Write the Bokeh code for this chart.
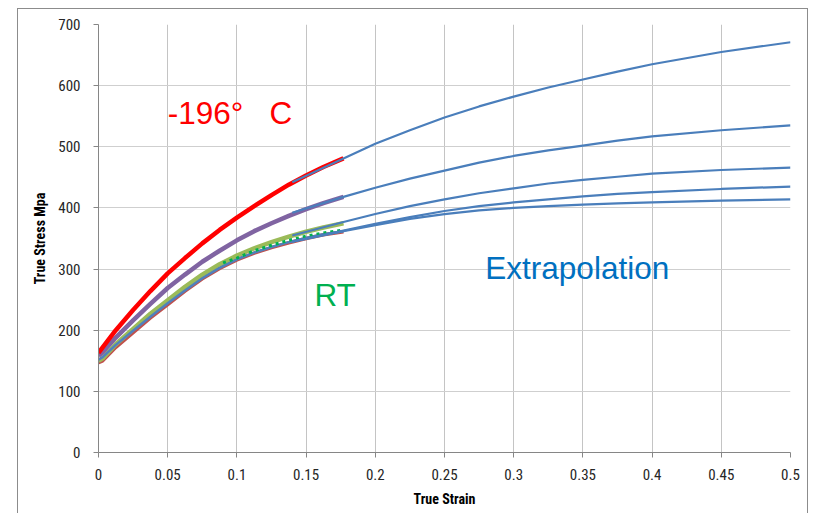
from bokeh.plotting import figure
from bokeh.models import Label, FixedTicker, Range1d
from bokeh.embed import file_html
from bokeh.resources import INLINE

# ---------------- data ----------------
# measured true stress-strain curves
strain_meas = [0, 0.003, 0.0125, 0.025, 0.0375, 0.05, 0.0625, 0.075, 0.0875, 0.1,
               0.1125, 0.125, 0.1375, 0.15, 0.1625, 0.177]
red_196 = [163, 172, 200, 233, 264, 293, 318, 342, 364, 384, 403, 421, 438, 453, 467, 481]
purple = [158, 164, 188, 216, 243, 269, 291, 312, 330, 347, 362, 375, 387, 398, 408, 418]
green_rt = [150, 154, 177, 202, 227, 249, 271, 291, 308, 322, 334, 344, 353, 361, 368, 375]
brown = [147, 150, 172, 196, 220, 242, 264, 284, 301, 315, 326, 335, 343, 350, 356, 361]
blue_meas = [152, 156, 176, 199, 222, 244, 265, 285, 302, 316, 327, 336, 344, 351, 357, 362]
strain_dotted = [0.09, 0.1, 0.1125, 0.125, 0.1375, 0.15, 0.1625, 0.177]
green_dotted = [310, 318, 330, 339, 347, 354, 359, 364]

# extrapolated curves
strain_ext = [0.14, 0.177, 0.2, 0.225, 0.25, 0.275, 0.3, 0.325, 0.35, 0.375, 0.4, 0.45, 0.5]
ext_1 = [442, 481, 505, 527, 548, 566, 582, 597, 610, 623, 635, 655, 671]
ext_2 = [392, 418, 433, 448, 461, 474, 485, 494, 502, 510, 517, 527, 535]
ext_3 = [355, 377, 390, 403, 414, 424, 432, 440, 446, 451, 456, 462, 466]
ext_4 = [345, 363, 374, 385, 395, 403, 409, 414, 419, 423, 426, 431, 435]
ext_5 = [345, 362, 372, 382, 390, 396, 400, 403, 405.5, 407.5, 409, 412, 414]

x_ticks = [0, 0.05, 0.1, 0.15, 0.2, 0.25, 0.3, 0.35, 0.4, 0.45, 0.5]
x_tick_labels = ["0", "0.05", "0.1", "0.15", "0.2", "0.25", "0.3", "0.35", "0.4", "0.45", "0.5"]
y_ticks = [0, 100, 200, 300, 400, 500, 600, 700]

# ---------------- figure ----------------
FONT = "'Liberation Sans Narrow', 'Roboto Condensed', Roboto, sans-serif"

p = figure(width=791, height=505, output_backend="svg", toolbar_location=None,
           x_range=Range1d(0, 0.5), y_range=Range1d(0, 700),
           min_border_left=80, min_border_right=19, min_border_top=15, min_border_bottom=62)
p.styles = {"margin-left": "17px", "margin-top": "8px",
            "border": "1px solid #8c8c8c", "border-bottom": "none"}
p.outline_line_color = None
p.background_fill_color = "white"
p.border_fill_color = "white"

p.xaxis.ticker = FixedTicker(ticks=x_ticks)
p.xaxis.major_label_overrides = {t: l for t, l in zip(x_ticks, x_tick_labels)}
p.yaxis.ticker = FixedTicker(ticks=y_ticks)

for ax in (p.xaxis, p.yaxis):
    ax.axis_line_color = "#868686"
    ax.major_tick_line_color = "#868686"
    ax.major_tick_out = 5
    ax.major_tick_in = 0
    ax.minor_tick_line_color = None
    ax.major_label_text_font = FONT
    ax.major_label_text_font_size = "15px"
    ax.major_label_text_color = "#262626"
    ax.axis_label_text_font = FONT
    ax.axis_label_text_font_style = "bold"
    ax.axis_label_text_font_size = "14px"
    ax.axis_label_text_color = "#000000"

p.xaxis.axis_label = "True Strain"
p.yaxis.axis_label = "True Stress Mpa"
p.xaxis.major_label_standoff = 11
p.xaxis.axis_label_standoff = 8
p.yaxis.major_label_standoff = 13
p.yaxis.axis_label_standoff = 7

p.xgrid.grid_line_color = "#c4c4c4"
p.ygrid.grid_line_color = "#cfcfcf"
p.xgrid.grid_line_width = 1
p.ygrid.grid_line_width = 1

# measured curves
p.line(strain_meas, brown, line_color="#C0504D", line_width=3.5)
p.line(strain_meas, green_rt, line_color="#9BBB59", line_width=4.5)
p.line(strain_meas, blue_meas, line_color="#4F81BD", line_width=2.5)
p.line(strain_dotted, green_dotted, line_color="#00B050", line_width=3, line_dash="3 4")
p.line(strain_meas, purple, line_color="#8064A2", line_width=4.5)
p.line(strain_meas, red_196, line_color="#FF0000", line_width=4.5)

# extrapolations
for ys in (ext_1, ext_2, ext_3, ext_4, ext_5):
    p.line(strain_ext, ys, line_color="#4A7EBB", line_width=2.2)

# annotations
LFONT = "'Liberation Sans', Arial, sans-serif"
p.add_layout(Label(x=0.05, y=555, text="-196°\u00a0\u00a0\u00a0C", text_color="#FF0000",
                   text_font=LFONT, text_font_size="31.5px", text_baseline="middle"))
p.add_layout(Label(x=0.156, y=258, text="RT", text_color="#00B050",
                   text_font=LFONT, text_font_size="31.5px", text_baseline="middle"))
p.add_layout(Label(x=0.2795, y=302, text="Extrapolation", text_color="#0070C0",
                   text_font=LFONT, text_font_size="31.5px", text_baseline="middle"))

open("out.html", "w").write(file_html(p, INLINE))
